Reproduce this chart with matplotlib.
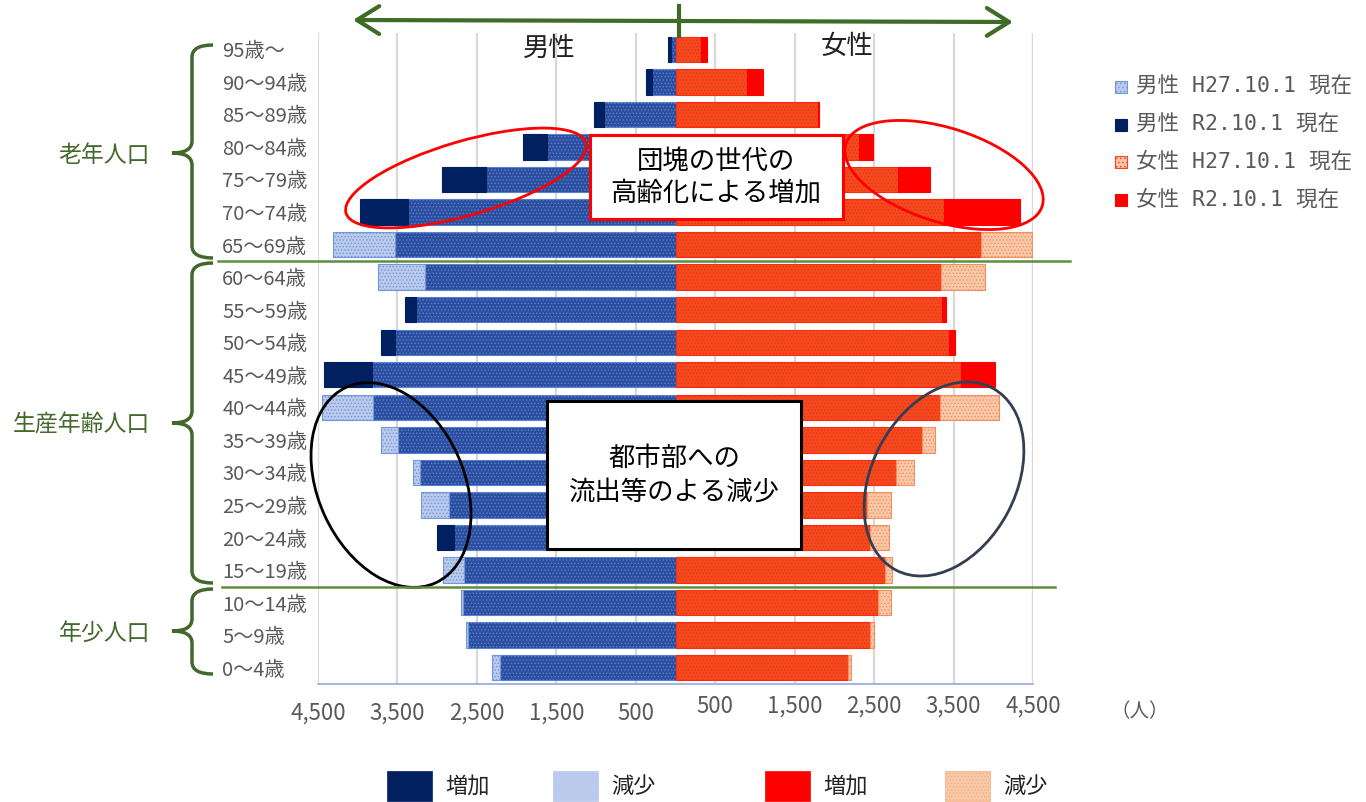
import numpy as np
import matplotlib.pyplot as plt
import matplotlib.transforms as mtransforms
from matplotlib.patches import Rectangle, Ellipse, PathPatch
from matplotlib.path import Path

plt.rcParams['font.family'] = ['Noto Sans CJK JP', 'DejaVu Sans']
plt.rcParams['hatch.linewidth'] = 0.6

# 年齢階級（上から）
ages = ['95歳～', '90～94歳', '85～89歳', '80～84歳', '75～79歳', '70～74歳', '65～69歳',
        '60～64歳', '55～59歳', '50～54歳', '45～49歳', '40～44歳', '35～39歳', '30～34歳',
        '25～29歳', '20～24歳', '15～19歳', '10～14歳', '5～9歳', '0～4歳']

# 人口（人）
male_h27 = [60, 290, 900, 1620, 2390, 3370, 4310, 3745, 3270, 3534,
            3816, 4446, 3711, 3303, 3207, 2791, 2925, 2703, 2631, 2308]
male_r2 = [90, 370, 1030, 1920, 2940, 3970, 3530, 3156, 3404, 3702,
           4429, 3807, 3492, 3219, 2850, 2997, 2661, 2673, 2615, 2203]
female_h27 = [317, 905, 1795, 2304, 2799, 3375, 4488, 3900, 3360, 3437,
              3597, 4067, 3270, 2997, 2715, 2682, 2724, 2715, 2501, 2208]
female_r2 = [393, 1107, 1800, 2484, 3207, 4332, 3845, 3345, 3400, 3522,
             4026, 3333, 3102, 2778, 2409, 2451, 2631, 2543, 2451, 2170]

xticks = [-4500, -3500, -2500, -1500, -500, 500, 1500, 2500, 3500, 4500]
xlabels = ['4,500', '3,500', '2,500', '1,500', '500', '500', '1,500', '2,500', '3,500', '4,500']

green = '#43682B'
gray = '#595959'
mono = ['DejaVu Sans Mono', 'Noto Sans CJK JP']

fig = plt.figure(figsize=(13.66, 8.02), dpi=100)
ax = fig.add_axes([318 / 1366, 1 - 684 / 802, 715 / 1366, 651 / 802])

y = np.arange(len(ages))[::-1]
h = 0.78


def draw_side(h27, r2, sign, base_style, inc_style, dec_style):
    h27 = np.array(h27)
    r2 = np.array(r2)
    base = np.minimum(h27, r2)
    inc = r2 - h27
    ax.barh(y, sign * base, height=h, zorder=2, **base_style)
    m = inc > 0
    ax.barh(y[m], sign * inc[m], left=sign * base[m], height=h, zorder=2, **inc_style)
    m = inc < 0
    ax.barh(y[m], sign * -inc[m], left=sign * base[m], height=h, zorder=2, **dec_style)


# 男性
draw_side(male_h27, male_r2, -1,
          dict(color='#2C4E9E', edgecolor='#5A80D0', hatch='.....', linewidth=0.8),
          dict(color='#002060', edgecolor='#002060', linewidth=0.8),
          dict(color='#B9CAEC', edgecolor='#7396D8', hatch='.....', linewidth=0.8))
# 女性
draw_side(female_h27, female_r2, 1,
          dict(color='#F04C20', edgecolor='#FF2A10', hatch='.....', linewidth=0.8),
          dict(color='#FF0000', edgecolor='#FF0000', linewidth=0.8),
          dict(color='#F8C8A8', edgecolor='#F39060', hatch='.....', linewidth=0.8))

ax.set_xlim(-4500, 4500)
ax.set_ylim(-0.5, 19.5)
ax.set_xticks(xticks, xlabels)
ax.set_yticks(y, ages)
ax.grid(axis='x', color='#D9D9D9', linewidth=1.6, zorder=0)
ax.set_axisbelow(True)
for s in ['top', 'right', 'left']:
    ax.spines[s].set_visible(False)
ax.spines['bottom'].set_color('#8FAADC')
ax.spines['bottom'].set_linewidth(1.2)
ax.tick_params(axis='y', length=0, pad=69, labelsize=14.5, labelcolor=gray)
ax.tick_params(axis='x', length=0, pad=13, labelsize=16, labelcolor=gray)
for lbl in ax.get_yticklabels():
    lbl.set_ha('left')
up = mtransforms.ScaledTranslation(0, 7 / 100, fig.dpi_scale_trans)
for t, lbl in zip(xticks, ax.get_xticklabels()):
    if t > 0:
        lbl.set_transform(lbl.get_transform() + up)

# 注記用のレイヤー（ピクセル座標）
ov = fig.add_axes([0, 0, 1, 1])
ov.set_xlim(0, 1366)
ov.set_ylim(802, 0)
ov.axis('off')
ov.patch.set_alpha(0)

# 上の矢印
ov.annotate('', xy=(353, 20), xytext=(1013, 22),
            arrowprops=dict(arrowstyle='<->,head_length=0.8,head_width=0.5',
                            lw=3, color='#3E6B25', mutation_scale=20, shrinkA=0, shrinkB=0))
ov.plot([679, 679], [6, 36], color='#3E6B25', lw=3)
ov.text(549, 48, '男性', fontsize=19, ha='center', va='center', color='#222222')
ov.text(847, 46, '女性', fontsize=19, ha='center', va='center', color='#222222')

# 区分線
ov.plot([218, 1070], [261, 261], color='#5E8E3E', lw=1.8)
ov.plot([222, 1055], [587, 587], color='#5E8E3E', lw=1.8)


def brace(y0, ym, y1, x_end=213, x_mid=192, x_tip=172, r=12):
    verts = [(x_end, y0), (x_mid, y0), (x_mid, y0 + r),
             (x_mid, ym - r), (x_mid, ym), (x_tip, ym),
             (x_mid, ym), (x_mid, ym + r),
             (x_mid, y1 - r), (x_mid, y1), (x_end, y1)]
    codes = [Path.MOVETO, Path.CURVE3, Path.CURVE3, Path.LINETO, Path.CURVE3, Path.CURVE3,
             Path.CURVE3, Path.CURVE3, Path.LINETO, Path.CURVE3, Path.CURVE3]
    ov.add_patch(PathPatch(Path(verts, codes), fill=False, edgecolor=green, lw=2.5))


brace(45, 153, 258)
brace(263, 423, 583)
brace(589, 631, 674)
ov.text(150, 155, '老年人口', fontsize=16.5, ha='right', va='center', color=green)
ov.text(150, 425, '生産年齢人口', fontsize=16.5, ha='right', va='center', color=green)
ov.text(150, 633, '年少人口', fontsize=16.5, ha='right', va='center', color=green)

# 楕円
ov.add_patch(Ellipse((466, 178), 250, 74, angle=-16.3, fill=False, edgecolor='#FF0000', lw=2))
ov.add_patch(Ellipse((944, 175), 206, 94, angle=17.6, fill=False, edgecolor='#FF0000', lw=2))
ov.add_patch(Ellipse((391, 485), 215, 146, angle=65.5, fill=False, edgecolor='black', lw=2))
ov.add_patch(Ellipse((944, 479), 206, 144, angle=-62, fill=False, edgecolor='#333F50', lw=2))

# 注記ボックス
ov.add_patch(Rectangle((590, 135), 253, 84, facecolor='white', edgecolor='#FF0000', lw=2.2))
ov.text(716, 162, '団塊の世代の', fontsize=19, ha='center', va='center')
ov.text(716, 193, '高齢化による増加', fontsize=19, ha='center', va='center')
ov.add_patch(Rectangle((547, 401), 254, 148, facecolor='white', edgecolor='black', lw=2.2))
ov.text(674, 458, '都市部への', fontsize=19, ha='center', va='center')
ov.text(674, 492, '流出等のよる減少', fontsize=19, ha='center', va='center')

ov.text(1140, 712, '（人）', fontsize=14, ha='center', va='center', color=gray)

# 凡例（右）
legend_items = [
    ('男性 H27.10.1 現在', dict(facecolor='#B9CAEC', edgecolor='#7396D8', hatch='....')),
    ('男性 R2.10.1 現在', dict(facecolor='#002060', edgecolor='#002060')),
    ('女性 H27.10.1 現在', dict(facecolor='#F8C8A8', edgecolor='#FF4020', hatch='....')),
    ('女性 R2.10.1 現在', dict(facecolor='#FF0000', edgecolor='#FF0000')),
]
for i, (txt, st) in enumerate(legend_items):
    yc = 87 + i * 37.5
    ov.add_patch(Rectangle((1115, yc - 6), 12, 12, lw=0.8, **st))
    ov.text(1136, yc, txt, fontsize=15.5, family=mono, ha='left', va='center', color=gray)

# 凡例（下）
bottom_items = [
    (387, '増加', dict(facecolor='#002060', edgecolor='#002060')),
    (553, '減少', dict(facecolor='#B9CAEC', edgecolor='#B9CAEC', hatch='.....')),
    (765, '増加', dict(facecolor='#FF0000', edgecolor='#FF0000')),
    (945, '減少', dict(facecolor='#F8C8A8', edgecolor='#F5B080', hatch='.....')),
]
for x0, txt, st in bottom_items:
    ov.add_patch(Rectangle((x0, 771), 45, 30, lw=0.5, **st))
    ov.text(x0 + 58, 786, txt, fontsize=16, ha='left', va='center', color='#222222')

fig.savefig('out.png', dpi=100)
